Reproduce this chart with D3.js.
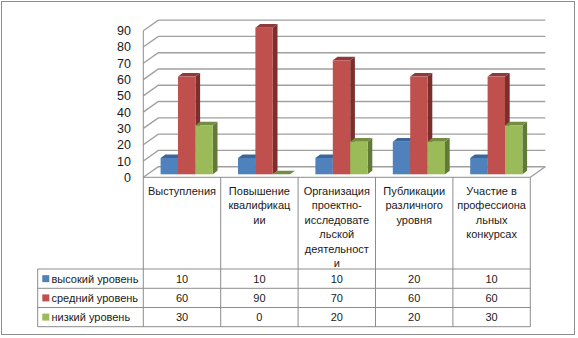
<!DOCTYPE html>
<html>
<head>
<meta charset="utf-8">
<script src="https://cdn.jsdelivr.net/npm/d3@7"></script>
<style>
  body { margin: 0; background: #fff; }
  svg { display: block; }
  text { font-family: "Liberation Sans", Arial, sans-serif; fill: #1a1a1a; }
</style>
</head>
<body>
<svg id="chart" width="578" height="338"></svg>
<script>

var categories = [
  ["Выступления"],
  ["Повышение", "квалификац", "ии"],
  ["Организация", "проектно-", "исследовате", "льской", "деятельност", "и"],
  ["Публикации", "различного", "уровня"],
  ["Участие в", "профессиона", "льных", "конкурсах"]
];
var seriesNames = ["высокий уровень", "средний уровень", "низкий уровень"];
var highValues = [10, 10, 10, 20, 10];
var midValues = [60, 90, 70, 60, 60];
var lowValues = [30, 0, 20, 20, 30];
var yTicks = [0, 10, 20, 30, 40, 50, 60, 70, 80, 90];

var seriesValues = [highValues, midValues, lowValues];
var frontColors = ["#4f81bd", "#c0504d", "#9bbb59"];
var topColors = ["#3c6699", "#8e3a38", "#748d43"];
var sideColors = ["#2f5080", "#7a2f2d", "#627a38"];

var svg = d3.select("#chart");

// outer frame
svg.append("rect")
  .attr("x", 1.5).attr("y", 1.5)
  .attr("width", 573).attr("height", 333)
  .style("fill", "#fff")
  .style("stroke", "#8c8c8c");

var x0 = 143.3, x1 = 530.3;
var depthX = 15, depthY = -10.6;

var x = d3.scaleBand()
  .domain(d3.range(categories.length))
  .range([x0, x1]);

var xInner = d3.scaleBand()
  .domain(d3.range(seriesNames.length))
  .range([13, 65.2]);

var y = d3.scaleLinear()
  .domain([0, 90])
  .range([177.3, 30.7]);

// gridlines on the walls
yTicks.forEach(function (t) {
  svg.append("polyline")
    .attr("points", [
      [x0, y(t)],
      [x0 + depthX, y(t) + depthY],
      [x1 + depthX, y(t) + depthY]
    ].join(" "))
    .style("fill", "none")
    .style("stroke", "#a0a0a0")
    .style("stroke-width", 1.4);
});

// floor right edge
svg.append("line")
  .attr("x1", x1).attr("y1", y(0))
  .attr("x2", x1 + depthX).attr("y2", y(0) + depthY)
  .style("stroke", "#a0a0a0")
  .style("stroke-width", 1.4);

// y axis labels
svg.selectAll("text.ytick")
  .data(yTicks)
  .enter()
  .append("text")
  .attr("class", "ytick")
  .attr("x", 131)
  .attr("y", function (d) { return y(d) + 4.5; })
  .style("font-size", "12.5px")
  .style("text-anchor", "end")
  .text(function (d) { return d; });

// 3d bars
var barDepthX = 4.7, barDepthY = -3.6;
var offX = 4.3, offY = -3;

categories.forEach(function (c, i) {
  seriesValues.forEach(function (vals, s) {
    var bx = x(i) + xInner(s) + offX;
    var bw = xInner.bandwidth();
    var yb = y(0) + offY;
    var yt = y(vals[i]) + offY;
    var g = svg.append("g");
    g.append("polygon")
      .attr("points", [[bx + bw, yt], [bx + bw + barDepthX, yt + barDepthY], [bx + bw + barDepthX, yb + barDepthY], [bx + bw, yb]].join(" "))
      .style("fill", sideColors[s]);
    g.append("polygon")
      .attr("points", [[bx, yt], [bx + barDepthX, yt + barDepthY], [bx + bw + barDepthX, yt + barDepthY], [bx + bw, yt]].join(" "))
      .style("fill", topColors[s]);
    g.append("rect")
      .attr("x", bx).attr("y", yt)
      .attr("width", bw).attr("height", yb - yt)
      .style("fill", frontColors[s]);
  });
});

// data table
var rowTops = [269, 288.3, 307.5, 326.7];
var legendLeft = 37.7;
var lineColor = "#8c8c8c";

svg.append("line")
  .attr("x1", x0).attr("y1", y(90))
  .attr("x2", x0).attr("y2", rowTops[3])
  .style("stroke", lineColor);

svg.append("line")
  .attr("x1", x0).attr("y1", y(0))
  .attr("x2", x1).attr("y2", y(0))
  .style("stroke", lineColor);

rowTops.forEach(function (ry) {
  svg.append("line")
    .attr("x1", legendLeft).attr("y1", ry)
    .attr("x2", x1).attr("y2", ry)
    .style("stroke", lineColor);
});

svg.append("line")
  .attr("x1", legendLeft).attr("y1", rowTops[0])
  .attr("x2", legendLeft).attr("y2", rowTops[3])
  .style("stroke", lineColor);

categories.forEach(function (c, i) {
  svg.append("line")
    .attr("x1", x(i) + x.bandwidth()).attr("y1", y(0))
    .attr("x2", x(i) + x.bandwidth()).attr("y2", rowTops[3])
    .style("stroke", lineColor);

  var t = svg.append("text")
    .attr("x", x(i) + x.bandwidth() / 2)
    .attr("y", 194.6)
    .style("font-size", "11px")
    .style("text-anchor", "middle");
  c.forEach(function (line, k) {
    t.append("tspan")
      .attr("x", x(i) + x.bandwidth() / 2)
      .attr("dy", k === 0 ? 0 : 14.5)
      .text(line);
  });
});

seriesNames.forEach(function (name, s) {
  var cy = (rowTops[s] + rowTops[s + 1]) / 2;
  svg.append("rect")
    .attr("x", 42.3).attr("y", cy - 3.5)
    .attr("width", 7).attr("height", 7)
    .style("fill", frontColors[s]);
  svg.append("text")
    .attr("x", 51.5)
    .attr("y", cy + 4)
    .style("font-size", "11px")
    .text(name);
  seriesValues[s].forEach(function (v, i) {
    svg.append("text")
      .attr("x", x(i) + x.bandwidth() / 2)
      .attr("y", cy + 4)
      .style("font-size", "11px")
      .style("text-anchor", "middle")
      .text(v);
  });
});

</script>
</body>
</html>
